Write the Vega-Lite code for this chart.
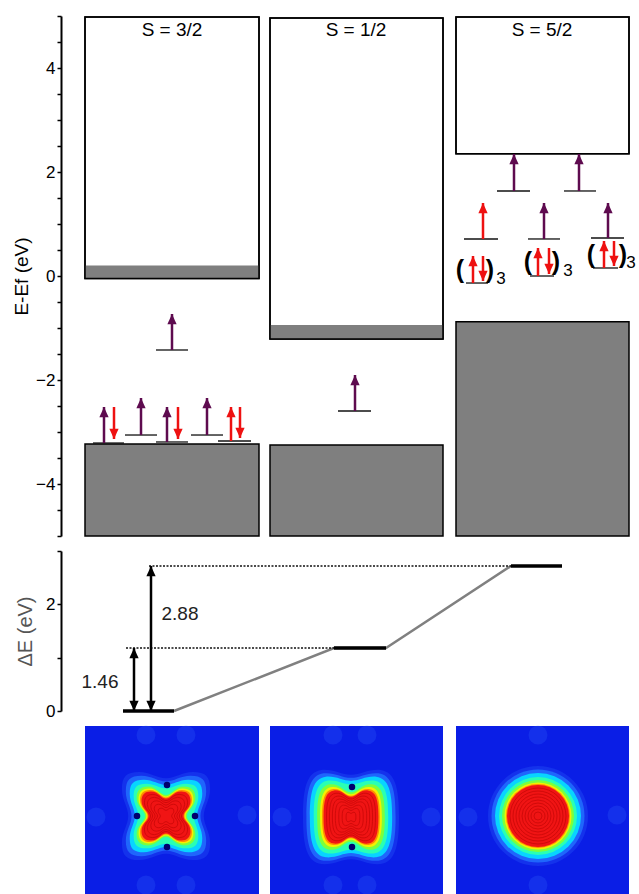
{
  "$schema": "https://vega.github.io/schema/vega-lite/v6.json",
  "padding": {"left": 12, "top": 15, "right": 4, "bottom": 0},
  "config": {
    "font": "Liberation Sans",
    "view": {"stroke": null},
    "axis": {"grid": false, "domainColor": "#000", "domainWidth": 2, "tickColor": "#000", "tickWidth": 1.5, "tickSize": 4, "labelColor": "#000", "labelFontSize": 17, "labelPadding": 2, "titleFontWeight": "normal", "titleColor": "#000", "labelFont": "Liberation Sans", "titleFont": "Liberation Sans"}
  },
  "spacing": 15,
  "bounds": "flush",
  "resolve": {"scale": {"x": "independent", "y": "independent", "color": "independent", "shape": "independent", "size": "independent"}},
  "datasets": {
    "cb": [
      {"x": 24, "x2": 198, "y": -0.05, "y2": 4.98},
      {"x": 209, "x2": 382, "y": -1.21, "y2": 4.96},
      {"x": 395, "x2": 568, "y": 2.35, "y2": 4.98}
    ],
    "band": [
      {"x": 24, "x2": 198, "y": -0.05, "y2": 0.2},
      {"x": 209, "x2": 382, "y": -1.21, "y2": -0.94}
    ],
    "vb": [
      {"x": 24, "x2": 198, "y": -5, "y2": -3.23},
      {"x": 209, "x2": 382, "y": -5, "y2": -3.25},
      {"x": 395, "x2": 568, "y": -5, "y2": -0.88}
    ],
    "lev": [
      {"x": 95, "x2": 127, "y": -1.423},
      {"x": 32, "x2": 63, "y": -3.212},
      {"x": 64, "x2": 96, "y": -3.058},
      {"x": 95, "x2": 127, "y": -3.192},
      {"x": 130, "x2": 162, "y": -3.058},
      {"x": 157, "x2": 190, "y": -3.173},
      {"x": 277, "x2": 310, "y": -2.596},
      {"x": 436, "x2": 469, "y": 1.635},
      {"x": 503, "x2": 535, "y": 1.635},
      {"x": 403, "x2": 437, "y": 0.712},
      {"x": 467, "x2": 499, "y": 0.712},
      {"x": 530, "x2": 563, "y": 0.731},
      {"x": 405, "x2": 427, "y": -0.135},
      {"x": 469, "x2": 493, "y": 0},
      {"x": 532, "x2": 557, "y": 0.154}
    ],
    "arrows": [
      {"x": 111, "y": -0.731, "yb": -1.423, "d": "up", "c": "p"},
      {"x": 43, "y": -2.519, "yb": -3.212, "d": "up", "c": "p"},
      {"x": 53, "y": -3.135, "yb": -2.519, "d": "down", "c": "r"},
      {"x": 80, "y": -2.346, "yb": -3.058, "d": "up", "c": "p"},
      {"x": 106, "y": -2.519, "yb": -3.192, "d": "up", "c": "p"},
      {"x": 117, "y": -3.135, "yb": -2.519, "d": "down", "c": "r"},
      {"x": 146, "y": -2.346, "yb": -3.058, "d": "up", "c": "p"},
      {"x": 170, "y": -2.519, "yb": -3.173, "d": "up", "c": "r"},
      {"x": 179, "y": -3.115, "yb": -2.519, "d": "down", "c": "r"},
      {"x": 294, "y": -1.904, "yb": -2.596, "d": "up", "c": "p"},
      {"x": 453, "y": 2.346, "yb": 1.635, "d": "up", "c": "p"},
      {"x": 518, "y": 2.346, "yb": 1.635, "d": "up", "c": "p"},
      {"x": 422, "y": 1.404, "yb": 0.712, "d": "up", "c": "r"},
      {"x": 483, "y": 1.404, "yb": 0.712, "d": "up", "c": "p"},
      {"x": 547, "y": 1.404, "yb": 0.731, "d": "up", "c": "p"},
      {"x": 412, "y": 0.385, "yb": -0.135, "d": "up", "c": "r"},
      {"x": 422, "y": -0.096, "yb": 0.385, "d": "down", "c": "r"},
      {"x": 477, "y": 0.538, "yb": 0, "d": "up", "c": "r"},
      {"x": 488, "y": 0.038, "yb": 0.538, "d": "down", "c": "r"},
      {"x": 543, "y": 0.673, "yb": 0.154, "d": "up", "c": "r"},
      {"x": 553, "y": 0.192, "yb": 0.673, "d": "down", "c": "r"}
    ],
    "titles": [
      {"x": 111, "y": 4.74, "t": "S = 3/2"},
      {"x": 295, "y": 4.74, "t": "S = 1/2"},
      {"x": 481, "y": 4.74, "t": "S = 5/2"}
    ],
    "parens": [
      {"x": 399, "y": 0.115, "t": "("},
      {"x": 429, "y": 0.115, "t": ")"},
      {"x": 467, "y": 0.27, "t": "("},
      {"x": 495, "y": 0.27, "t": ")"},
      {"x": 530, "y": 0.404, "t": "("},
      {"x": 562, "y": 0.404, "t": ")"}
    ],
    "subs": [
      {"x": 440, "y": -0.06, "t": "3"},
      {"x": 507, "y": 0.09, "t": "3"},
      {"x": 570, "y": 0.25, "t": "3"}
    ],
    "dlev": [
      {"x": 62, "x2": 113, "y": 0},
      {"x": 273, "x2": 325, "y": 1.18},
      {"x": 450, "x2": 501, "y": 2.72}
    ],
    "dline": [
      {"x": 113, "y": 0},
      {"x": 273, "y": 1.18},
      {"x": 325, "y": 1.18},
      {"x": 450, "y": 2.72}
    ],
    "ddots": [
      {"x": 65, "x2": 273, "y": 1.18},
      {"x": 88, "x2": 450, "y": 2.72}
    ],
    "darr": [
      {"x": 73, "y": 1.18, "yb": 0},
      {"x": 90, "y": 2.72, "yb": 0}
    ],
    "dheads": [
      {"x": 73, "y": 1.18, "d": "up"},
      {"x": 73, "y": 0, "d": "down"},
      {"x": 90, "y": 2.72, "d": "up"},
      {"x": 90, "y": 0, "d": "down"}
    ],
    "dtxt": [
      {"x": 39, "y": 0.54, "t": "1.46"},
      {"x": 119, "y": 1.81, "t": "2.88"}
    ],
    "imgs": [
      {"x": 24, "x2": 198, "y": 0, "y2": 169},
      {"x": 209, "x2": 382, "y": 0, "y2": 169},
      {"x": 395, "x2": 568, "y": 0, "y2": 169}
    ],
    "spots": [
      {"x": 85, "y": 160}, {"x": 125, "y": 160}, {"x": 85, "y": 10}, {"x": 125, "y": 10}, {"x": 35, "y": 78}, {"x": 186, "y": 80},
      {"x": 221, "y": 78}, {"x": 370, "y": 78}, {"x": 272, "y": 10}, {"x": 306, "y": 10}, {"x": 272, "y": 160}, {"x": 306, "y": 160},
      {"x": 477, "y": 160}, {"x": 477, "y": 10}, {"x": 407, "y": 78}, {"x": 556, "y": 80}
    ],
    "rings": [
      {"x": 105, "y": 79, "ring": "g0", "s": "a_out", "k": 1},
      {"x": 105, "y": 79, "ring": "g1", "s": "a_out", "k": 2},
      {"x": 105, "y": 79, "ring": "cy", "s": "a_out", "k": 3},
      {"x": 105, "y": 79, "ring": "aq", "s": "a_out", "k": 4},
      {"x": 105, "y": 79, "ring": "gr", "s": "a_in", "k": 5},
      {"x": 105, "y": 79, "ring": "ye", "s": "a_in", "k": 6},
      {"x": 105, "y": 79, "ring": "or", "s": "a_in", "k": 7},
      {"x": 105, "y": 79, "ring": "re", "s": "a_in", "k": 8},
      {"x": 290, "y": 78, "ring": "g0", "s": "b_out", "k": 9},
      {"x": 290, "y": 78, "ring": "g1", "s": "b_out", "k": 10},
      {"x": 290, "y": 78, "ring": "cy", "s": "b_out", "k": 11},
      {"x": 290, "y": 78, "ring": "aq", "s": "b_out", "k": 12},
      {"x": 290, "y": 78, "ring": "gr", "s": "b_in", "k": 13},
      {"x": 290, "y": 78, "ring": "ye", "s": "b_in", "k": 14},
      {"x": 290, "y": 78, "ring": "or", "s": "b_in", "k": 15},
      {"x": 290, "y": 78, "ring": "re", "s": "b_in", "k": 16},
      {"x": 477, "y": 79, "ring": "g0", "s": "c", "k": 17},
      {"x": 477, "y": 79, "ring": "g1", "s": "c", "k": 18},
      {"x": 477, "y": 79, "ring": "cy", "s": "c", "k": 19},
      {"x": 477, "y": 79, "ring": "aq", "s": "c", "k": 20},
      {"x": 477, "y": 79, "ring": "gr", "s": "c", "k": 21},
      {"x": 477, "y": 79, "ring": "ye", "s": "c", "k": 22},
      {"x": 477, "y": 79, "ring": "or", "s": "c", "k": 23},
      {"x": 477, "y": 79, "ring": "re", "s": "c", "k": 24}
    ],
    "notch": [
      {"x": 106, "y": 110}, {"x": 106, "y": 48}, {"x": 76, "y": 79}, {"x": 134, "y": 79},
      {"x": 291, "y": 108}, {"x": 291, "y": 48}
    ],
    "cont": [
      {"x": 105, "y": 79, "s": "a_in", "k": 25},
      {"x": 105, "y": 79, "s": "a_in", "k": 26},
      {"x": 105, "y": 79, "s": "a_in", "k": 27},
      {"x": 105, "y": 79, "s": "a_in", "k": 28},
      {"x": 105, "y": 79, "s": "a_in", "k": 29},
      {"x": 290, "y": 78, "s": "b_in", "k": 30},
      {"x": 290, "y": 78, "s": "b_in", "k": 31},
      {"x": 290, "y": 78, "s": "b_in", "k": 32},
      {"x": 290, "y": 78, "s": "b_in", "k": 33},
      {"x": 290, "y": 78, "s": "b_in", "k": 34},
      {"x": 290, "y": 78, "s": "b_in", "k": 35},
      {"x": 290, "y": 78, "s": "b_in", "k": 36},
      {"x": 477, "y": 79, "s": "c", "k": 37},
      {"x": 477, "y": 79, "s": "c", "k": 38},
      {"x": 477, "y": 79, "s": "c", "k": 39},
      {"x": 477, "y": 79, "s": "c", "k": 40},
      {"x": 477, "y": 79, "s": "c", "k": 41},
      {"x": 477, "y": 79, "s": "c", "k": 42},
      {"x": 477, "y": 79, "s": "c", "k": 43},
      {"x": 477, "y": 79, "s": "c", "k": 44},
      {"x": 477, "y": 79, "s": "c", "k": 45}
    ]
  },
  "vconcat": [
    {
      "width": 575,
      "height": 520,
      "encoding": {
        "x": {"field": "x", "type": "quantitative", "scale": {"domain": [0, 575], "nice": false, "zero": false}, "axis": null},
        "y": {"field": "y", "type": "quantitative", "scale": {"domain": [-5, 5], "nice": false, "zero": false},
          "axis": {"title": "E-Ef (eV)", "values": [-5, -4.5, -4, -3.5, -3, -2.5, -2, -1.5, -1, -0.5, 0, 0.5, 1, 1.5, 2, 2.5, 3, 3.5, 4, 4.5, 5],
            "labelExpr": "datum.value % 2 == 0 ? replace(format(datum.value, 'd'), '-', '\u2212') : ''", "titleFontSize": 19, "titlePadding": 4}}
      },
      "layer": [
        {"data": {"name": "cb"}, "mark": {"type": "rect", "fill": "#ffffff", "stroke": "#000", "strokeWidth": 1.5}, "encoding": {"x2": {"field": "x2"}, "y2": {"field": "y2"}}},
        {"data": {"name": "band"}, "mark": {"type": "rect", "fill": "#7f7f7f"}, "encoding": {"x2": {"field": "x2"}, "y2": {"field": "y2"}}},
        {"data": {"name": "cb"}, "mark": {"type": "rect", "fill": "#ffffff", "fillOpacity": 0, "stroke": "#000", "strokeWidth": 1.5}, "encoding": {"x2": {"field": "x2"}, "y2": {"field": "y2"}}},
        {"data": {"name": "vb"}, "mark": {"type": "rect", "fill": "#7f7f7f", "stroke": "#000", "strokeWidth": 1.5}, "encoding": {"x2": {"field": "x2"}, "y2": {"field": "y2"}}},
        {"data": {"name": "lev"}, "mark": {"type": "rule", "strokeWidth": 1.3, "color": "#111"}, "encoding": {"x2": {"field": "x2"}}},
        {"data": {"name": "arrows"}, "mark": {"type": "rule", "strokeWidth": 2.5, "strokeCap": "butt"},
          "encoding": {"y2": {"field": "yb"}, "color": {"field": "c", "type": "nominal", "scale": {"domain": ["p", "r"], "range": ["#5e0b4f", "#ee1111"]}, "legend": null}}},
        {"data": {"name": "arrows"}, "mark": {"type": "point", "filled": true, "opacity": 1, "size": 420, "strokeWidth": 0},
          "encoding": {
            "color": {"field": "c", "type": "nominal", "scale": {"domain": ["p", "r"], "range": ["#5e0b4f", "#ee1111"]}, "legend": null},
            "shape": {"field": "d", "type": "nominal", "scale": {"domain": ["up", "down"], "range": ["M0,0L0.45,1L-0.45,1Z", "M0,0L0.45,-1L-0.45,-1Z"]}, "legend": null}}},
        {"data": {"name": "titles"}, "mark": {"type": "text", "fontSize": 19, "baseline": "middle", "color": "#000"}, "encoding": {"text": {"field": "t"}}},
        {"data": {"name": "parens"}, "mark": {"type": "text", "fontSize": 25, "fontWeight": "bold", "baseline": "middle", "color": "#000"}, "encoding": {"text": {"field": "t"}}},
        {"data": {"name": "subs"}, "mark": {"type": "text", "fontSize": 17, "baseline": "middle", "color": "#000"}, "encoding": {"text": {"field": "t"}}}
      ]
    },
    {
      "width": 575,
      "height": 160,
      "encoding": {
        "x": {"field": "x", "type": "quantitative", "scale": {"domain": [0, 575], "nice": false, "zero": false}, "axis": null},
        "y": {"field": "y", "type": "quantitative", "scale": {"domain": [0, 3], "nice": false, "zero": false},
          "axis": {"title": "\u0394E (eV)", "values": [0, 1, 2, 3], "labelExpr": "datum.value % 2 == 0 ? format(datum.value, 'd') : ''", "titleFontSize": 20, "titleColor": "#555", "titlePadding": 10}}
      },
      "layer": [
        {"data": {"name": "dline"}, "mark": {"type": "line", "color": "#808080", "strokeWidth": 2.5}, "encoding": {}},
        {"data": {"name": "ddots"}, "mark": {"type": "rule", "strokeDash": [2, 1.5], "strokeWidth": 1.5, "color": "#111"}, "encoding": {"x2": {"field": "x2"}}},
        {"data": {"name": "dlev"}, "mark": {"type": "rule", "strokeWidth": 3.5, "color": "#000"}, "encoding": {"x2": {"field": "x2"}}},
        {"data": {"name": "darr"}, "mark": {"type": "rule", "strokeWidth": 2.5, "color": "#000", "strokeCap": "butt"}, "encoding": {"y2": {"field": "yb"}}},
        {"data": {"name": "dheads"}, "mark": {"type": "point", "filled": true, "opacity": 1, "size": 420, "color": "#000", "strokeWidth": 0},
          "encoding": {"shape": {"field": "d", "type": "nominal", "scale": {"domain": ["up", "down"], "range": ["M0,0L0.45,1L-0.45,1Z", "M0,0L0.45,-1L-0.45,-1Z"]}, "legend": null}}},
        {"data": {"name": "dtxt"}, "mark": {"type": "text", "fontSize": 19, "baseline": "middle", "color": "#222"}, "encoding": {"text": {"field": "t"}}}
      ]
    },
    {
      "width": 575,
      "height": 169,
      "encoding": {
        "x": {"field": "x", "type": "quantitative", "scale": {"domain": [0, 575], "nice": false, "zero": false}, "axis": null},
        "y": {"field": "y", "type": "quantitative", "scale": {"domain": [0, 169], "nice": false, "zero": false}, "axis": null}
      },
      "layer": [
        {"data": {"name": "imgs"}, "mark": {"type": "rect", "fill": "#0a1ee6"}, "encoding": {"x2": {"field": "x2"}, "y2": {"field": "y2"}}},
        {"data": {"name": "spots"}, "mark": {"type": "point", "shape": "circle", "filled": true, "size": 360, "color": "#3a78ff", "opacity": 0.2, "strokeWidth": 0}, "encoding": {}},
        {"data": {"name": "rings"}, "mark": {"type": "point", "filled": true, "opacity": 1, "strokeWidth": 0},
          "encoding": {
            "color": {"field": "ring", "type": "nominal", "scale": {"domain": ["g0", "g1", "cy", "aq", "gr", "ye", "or", "re"], "range": ["#1432ec", "#1f66fc", "#08d4ff", "#2affb4", "#7cff3c", "#f4f000", "#ff8c00", "#f01414"]}, "legend": null},
            "shape": {"field": "s", "type": "nominal", "scale": {"domain": ["a_out", "a_in", "b_out", "b_in", "c"], "range": [
              "M0,-0.84C0.2,-0.84 0.35,-0.98 0.6,-0.98C0.88,-0.98 0.98,-0.88 0.98,-0.6C0.98,-0.35 0.84,-0.2 0.84,0C0.84,0.2 0.98,0.35 0.98,0.6C0.98,0.88 0.88,0.98 0.6,0.98C0.35,0.98 0.2,0.84 0,0.84C-0.2,0.84 -0.35,0.98 -0.6,0.98C-0.88,0.98 -0.98,0.88 -0.98,0.6C-0.98,0.35 -0.84,0.2 -0.84,0C-0.84,-0.2 -0.98,-0.35 -0.98,-0.6C-0.98,-0.88 -0.88,-0.98 -0.6,-0.98C-0.35,-0.98 -0.2,-0.84 0,-0.84Z",
              "M0,-0.7C0.2,-0.7 0.3,-0.98 0.6,-0.98C0.85,-0.98 0.98,-0.85 0.98,-0.6C0.98,-0.3 0.7,-0.2 0.7,0C0.7,0.2 0.98,0.3 0.98,0.6C0.98,0.85 0.85,0.98 0.6,0.98C0.3,0.98 0.2,0.7 0,0.7C-0.2,0.7 -0.3,0.98 -0.6,0.98C-0.85,0.98 -0.98,0.85 -0.98,0.6C-0.98,0.3 -0.7,0.2 -0.7,0C-0.7,-0.2 -0.98,-0.3 -0.98,-0.6C-0.98,-0.85 -0.85,-0.98 -0.6,-0.98C-0.3,-0.98 -0.2,-0.7 0,-0.7Z",
              "M0,-0.86C0.2,-0.86 0.35,-0.98 0.6,-0.96C0.9,-0.92 0.98,-0.6 0.98,0C0.98,0.6 0.9,0.92 0.6,0.96C0.35,0.98 0.2,0.86 0,0.86C-0.2,0.86 -0.35,0.98 -0.6,0.96C-0.9,0.92 -0.98,0.6 -0.98,0C-0.98,-0.6 -0.9,-0.92 -0.6,-0.96C-0.35,-0.98 -0.2,-0.86 0,-0.86Z",
              "M0,-0.72C0.2,-0.72 0.3,-0.97 0.6,-0.95C0.9,-0.92 0.98,-0.6 0.98,0C0.98,0.6 0.9,0.92 0.6,0.95C0.3,0.97 0.2,0.72 0,0.72C-0.2,0.72 -0.3,0.97 -0.6,0.95C-0.9,0.92 -0.98,0.6 -0.98,0C-0.98,-0.6 -0.9,-0.92 -0.6,-0.95C-0.3,-0.97 -0.2,-0.72 0,-0.72Z",
              "circle"]}, "legend": null},
            "size": {"field": "k", "type": "quantitative", "scale": {"type": "threshold",
              "domain": [1.5, 2.5, 3.5, 4.5, 5.5, 6.5, 7.5, 8.5, 9.5, 10.5, 11.5, 12.5, 13.5, 14.5, 15.5, 16.5, 17.5, 18.5, 19.5, 20.5, 21.5, 22.5, 23.5, 24.5, 25.5, 26.5, 27.5, 28.5, 29.5, 30.5, 31.5, 32.5, 33.5, 34.5, 35.5, 36.5, 37.5, 38.5, 39.5, 40.5, 41.5, 42.5, 43.5, 44.5],
              "range": [8100, 6724, 5476, 4356, 3600, 3136, 2809, 2500, 9604, 8281, 7056, 5776, 4761, 3969, 3481, 3136, 10000, 8649, 7396, 6084, 5184, 4489, 4096, 3844, 1936, 1444, 961, 576, 256, 2500, 1936, 1444, 1024, 625, 324, 100, 3136, 2500, 1936, 1444, 1024, 676, 400, 196, 64]}, "legend": null}
          }},
        {"data": {"name": "notch"}, "mark": {"type": "point", "shape": "circle", "filled": true, "size": 42, "color": "#00006e", "opacity": 1, "strokeWidth": 0}, "encoding": {}},
        {"data": {"name": "cont"}, "mark": {"type": "point", "filled": false, "strokeWidth": 0.8, "color": "#b00000", "opacity": 0.6},
          "encoding": {
            "shape": {"field": "s", "type": "nominal", "scale": {"domain": ["a_out", "a_in", "b_out", "b_in", "c"], "range": [
              "M0,-0.84C0.2,-0.84 0.35,-0.98 0.6,-0.98C0.88,-0.98 0.98,-0.88 0.98,-0.6C0.98,-0.35 0.84,-0.2 0.84,0C0.84,0.2 0.98,0.35 0.98,0.6C0.98,0.88 0.88,0.98 0.6,0.98C0.35,0.98 0.2,0.84 0,0.84C-0.2,0.84 -0.35,0.98 -0.6,0.98C-0.88,0.98 -0.98,0.88 -0.98,0.6C-0.98,0.35 -0.84,0.2 -0.84,0C-0.84,-0.2 -0.98,-0.35 -0.98,-0.6C-0.98,-0.88 -0.88,-0.98 -0.6,-0.98C-0.35,-0.98 -0.2,-0.84 0,-0.84Z",
              "M0,-0.7C0.2,-0.7 0.3,-0.98 0.6,-0.98C0.85,-0.98 0.98,-0.85 0.98,-0.6C0.98,-0.3 0.7,-0.2 0.7,0C0.7,0.2 0.98,0.3 0.98,0.6C0.98,0.85 0.85,0.98 0.6,0.98C0.3,0.98 0.2,0.7 0,0.7C-0.2,0.7 -0.3,0.98 -0.6,0.98C-0.85,0.98 -0.98,0.85 -0.98,0.6C-0.98,0.3 -0.7,0.2 -0.7,0C-0.7,-0.2 -0.98,-0.3 -0.98,-0.6C-0.98,-0.85 -0.85,-0.98 -0.6,-0.98C-0.3,-0.98 -0.2,-0.7 0,-0.7Z",
              "M0,-0.86C0.2,-0.86 0.35,-0.98 0.6,-0.96C0.9,-0.92 0.98,-0.6 0.98,0C0.98,0.6 0.9,0.92 0.6,0.96C0.35,0.98 0.2,0.86 0,0.86C-0.2,0.86 -0.35,0.98 -0.6,0.96C-0.9,0.92 -0.98,0.6 -0.98,0C-0.98,-0.6 -0.9,-0.92 -0.6,-0.96C-0.35,-0.98 -0.2,-0.86 0,-0.86Z",
              "M0,-0.72C0.2,-0.72 0.3,-0.97 0.6,-0.95C0.9,-0.92 0.98,-0.6 0.98,0C0.98,0.6 0.9,0.92 0.6,0.95C0.3,0.97 0.2,0.72 0,0.72C-0.2,0.72 -0.3,0.97 -0.6,0.95C-0.9,0.92 -0.98,0.6 -0.98,0C-0.98,-0.6 -0.9,-0.92 -0.6,-0.95C-0.3,-0.97 -0.2,-0.72 0,-0.72Z",
              "circle"]}, "legend": null},
            "size": {"field": "k", "type": "quantitative", "scale": {"type": "threshold",
              "domain": [1.5, 2.5, 3.5, 4.5, 5.5, 6.5, 7.5, 8.5, 9.5, 10.5, 11.5, 12.5, 13.5, 14.5, 15.5, 16.5, 17.5, 18.5, 19.5, 20.5, 21.5, 22.5, 23.5, 24.5, 25.5, 26.5, 27.5, 28.5, 29.5, 30.5, 31.5, 32.5, 33.5, 34.5, 35.5, 36.5, 37.5, 38.5, 39.5, 40.5, 41.5, 42.5, 43.5, 44.5],
              "range": [8100, 6724, 5476, 4356, 3600, 3136, 2809, 2500, 9604, 8281, 7056, 5776, 4761, 3969, 3481, 3136, 10000, 8649, 7396, 6084, 5184, 4489, 4096, 3844, 1936, 1444, 961, 576, 256, 2500, 1936, 1444, 1024, 625, 324, 100, 3136, 2500, 1936, 1444, 1024, 676, 400, 196, 64]}, "legend": null}
          }}
      ]
    }
  ]
}
